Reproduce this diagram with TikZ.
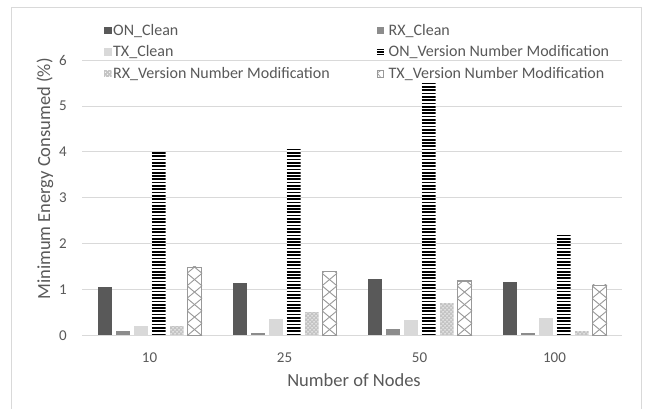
\documentclass[tikz,border=0pt]{standalone}
\usepackage{fontspec}
\setmainfont{Carlito}
\definecolor{txt}{HTML}{595959}
\definecolor{gridc}{HTML}{D9D9D9}
\definecolor{oncl}{HTML}{595959}
\definecolor{rxcl}{HTML}{8C8C8C}
\definecolor{txcl}{HTML}{D9D9D9}
\definecolor{dotc}{HTML}{C4C4C4}
\definecolor{hatchc}{HTML}{999999}

% y position of a value on the vertical axis
\newcommand{\yv}[1]{{73.7+(#1)*45.85}}

% solid bar: colour, centre x, value
\newcommand{\barsolid}[3]{\fill[#1] ({#2-7},73.7) rectangle ({#2+7},\yv{#3});}

% narrow horizontal stripes
\newcommand{\barstripe}[2]{%
  \begin{scope}
    \clip ({#1-7},73.7) rectangle ({#1+7},\yv{#2});
    \fill[white] ({#1-7},73.7) rectangle ({#1+7},\yv{#2});
    \foreach \yy in {0,3.3,...,260}
      \draw[black,line width=1.7pt] ({#1-7},{73.7+\yy+0.9}) -- ({#1+7},{73.7+\yy+0.9});
  \end{scope}}

% dotted light grey
\newcommand{\bardots}[2]{%
  \begin{scope}
    \clip ({#1-7},73.7) rectangle ({#1+7},\yv{#2});
    \fill[dotc] ({#1-7},73.7) rectangle ({#1+7},\yv{#2});
    \foreach \yy in {1.5,5.5,...,40}
      \foreach \xx in {-5.5,-1.5,2.5,6.5}
        \fill[white] ({#1+\xx},{73.7+\yy}) circle (0.75);
    \foreach \yy in {3.5,7.5,...,40}
      \foreach \xx in {-3.5,0.5,4.5}
        \fill[white] ({#1+\xx},{73.7+\yy}) circle (0.75);
  \end{scope}}

% large diagonal cross-hatch with outline
\newcommand{\barcross}[2]{%
  \begin{scope}
    \clip ({#1-7.5},73.7) rectangle ({#1+7.5},\yv{#2});
    \fill[white] ({#1-7.5},73.7) rectangle ({#1+7.5},\yv{#2});
    \foreach \yy in {-13,-0.5,...,90} {
      \draw[hatchc,line width=0.9pt] ({#1-7.5},{73.7+\yy}) -- ++(15,12.5);
      \draw[hatchc,line width=0.9pt] ({#1+7.5},{73.7+\yy}) -- ++(-15,12.5);
    }
  \end{scope}
  \draw[hatchc,line width=1.3pt] ({#1-6.85},73.7) rectangle ({#1+6.85},{73.7+(#2)*45.85-0.65});}

\begin{document}
\begin{tikzpicture}[x=1pt,y=1pt,
  tick/.style={text=txt,font=\fontsize{15}{18}\selectfont,inner sep=0pt},
  lab/.style={text=txt,font=\fontsize{16}{19}\selectfont,inner sep=0pt},
  ttl/.style={text=txt,font=\fontsize{18.5}{22}\selectfont,inner sep=0pt},
  gridline/.style={gridc,line width=1pt}]
\useasboundingbox (0,0) rectangle (646,409);
\fill[white] (0,0) rectangle (646,409);

% chart frame (its lower edge lies below the page)
\draw[gridc,line width=1pt] (11,-3) -- (11,401) -- (641.5,401) -- (641.5,-3);

% horizontal grid and base line
\foreach \v in {0,...,6}
  \draw[gridline] (82,\yv{\v}) -- (621.7,\yv{\v});

% vertical axis labels
\foreach \v in {0,...,6}
  \node[tick,anchor=east] (ytick\v) at (67,\yv{\v}) {\v};

% category labels
\foreach \c/\t [count=\i from 0] in {10/10,25/25,50/50,100/100}
  \node[tick] (xtick\c) at ({149.5+135*\i},51) {\t};

% axis titles
\node[ttl,anchor=base] (xtitle) at (354,22.3) {Number of Nodes};
\node[ttl,rotate=90] (ytitle) at (45,230) {Minimum Energy Consumed (\%)};

% bars: ON_Clean, RX_Clean, TX_Clean, ON_VNM, RX_VNM, TX_VNM
\foreach \on/\rx/\tx/\onv/\rxv/\txv [count=\i from 0] in
  {1.05/0.10/0.20/4.0/0.20/1.5,
   1.15/0.05/0.35/4.1/0.50/1.4,
   1.23/0.13/0.33/5.5/0.70/1.2,
   1.16/0.05/0.37/2.2/0.10/1.1} {
  \pgfmathsetmacro{\cx}{149.5+135*\i}
  \barsolid{oncl}{\cx-45}{\on}
  \barsolid{rxcl}{\cx-27}{\rx}
  \barsolid{txcl}{\cx-9}{\tx}
  \barstripe{\cx+9}{\onv}
  \bardots{\cx+27}{\rxv}
  \barcross{\cx+45}{\txv}
}

% legend
\fill[oncl] (104.2,374.9) rectangle (111.7,382.4);
\node[lab,anchor=base west] (lg1) at (113,373.7) {ON\_Clean};
\fill[rxcl] (376.8,374.9) rectangle (384.3,382.4);
\node[lab,anchor=base west] (lg2) at (388.5,373.7) {RX\_Clean};

\fill[txcl] (104.2,353.2) rectangle (111.7,360.7);
\node[lab,anchor=base west] (lg3) at (113,352) {TX\_Clean};
\foreach \yy in {354.2,357,359.8}
  \draw[black,line width=1.1pt] (376.8,\yy) -- (384.3,\yy);
\node[lab,anchor=base west] (lg4) at (388.5,352) {ON\_Version Number Modification};

\begin{scope}
  \clip (104.2,331.5) rectangle (111.7,339);
  \fill[dotc] (104.2,331.5) rectangle (111.7,339);
  \foreach \xx in {105.5,109.5} \foreach \yy in {332.8,336.8}
    \fill[white] (\xx,\yy) circle (0.6);
  \foreach \xx in {107.5,111.5} \foreach \yy in {334.8,338.8}
    \fill[white] (\xx,\yy) circle (0.6);
\end{scope}
\node[lab,anchor=base west] (lg5) at (113,330.5) {RX\_Version Number Modification};
\draw[hatchc,line width=0.9pt] (377.2,331.9) rectangle (383.9,338.6);
\draw[hatchc,line width=0.7pt] (377.2,336) -- (380.5,331.9);
\draw[hatchc,line width=0.7pt] (377.2,336) -- (381,338.6);
\node[lab,anchor=base west] (lg6) at (388.5,330.5) {TX\_Version Number Modification};
\end{tikzpicture}
\end{document}
